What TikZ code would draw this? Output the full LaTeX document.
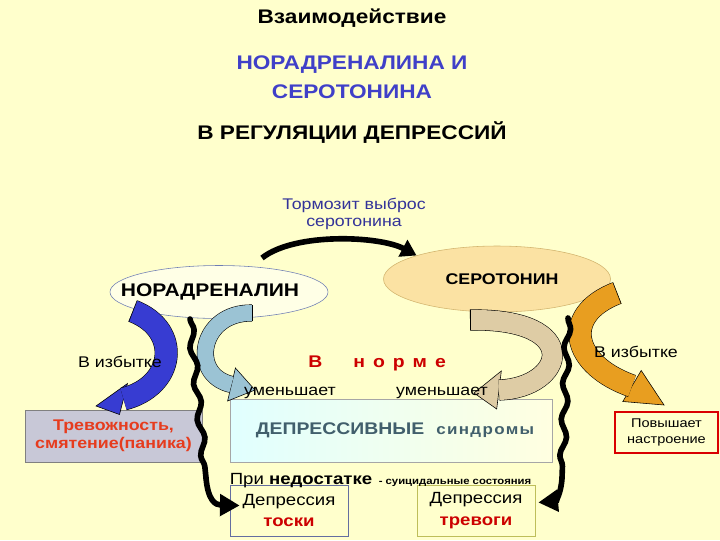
\documentclass[tikz,border=0pt]{standalone}
\usepackage{fontspec}
\setmainfont{Liberation Sans}[FakeStretch=1.15]
\usetikzlibrary{shapes.geometric,arrows.meta,decorations.pathmorphing}
\newlength\unitpx
\setlength\unitpx{0.025cm}
\definecolor{bgyel}{RGB}{255,255,204}
\definecolor{navy}{RGB}{51,51,153}
\definecolor{titleblue}{RGB}{64,64,200}
\definecolor{normred}{RGB}{204,0,0}
\definecolor{trevred}{RGB}{230,60,30}
\definecolor{slate}{RGB}{65,95,108}
\definecolor{serfill}{RGB}{251,226,163}
\definecolor{serline}{RGB}{210,180,110}
\definecolor{norline}{RGB}{110,125,180}
\definecolor{arrblue}{RGB}{55,60,210}
\definecolor{arrsky}{RGB}{155,195,212}
\definecolor{arrtan}{RGB}{222,204,165}
\definecolor{arrorange}{RGB}{232,158,32}
\definecolor{trevfill}{RGB}{200,200,215}
\definecolor{toskaline}{RGB}{100,110,160}
\definecolor{trevogiline}{RGB}{190,190,90}
\tikzset{every node/.style={inner sep=0pt,align=center},
	heading/.style={font=\bfseries\fontsize{14}{21}\selectfont},
	plaintext/.style={font=\fontsize{11}{12.5}\selectfont},
	oval/.style={ellipse,draw,line width=0.4pt,font=\bfseries\fontsize{12}{14}\selectfont},
	tbox/.style={draw,line width=0.5pt,font=\fontsize{11.5}{15.6}\selectfont},
	bandbody/.style={draw=black,line width=0.4pt,double distance=#1},
	arrhead/.style={draw=black,line width=0.4pt},
	wavy/.style={line width=4pt,line cap=round,decorate,
		decoration={snake,segment length=36\unitpx,amplitude=3\unitpx}},
	wavyend/.style={line width=4pt,line cap=round,-{Triangle[length=14pt,width=15pt]}}}

\begin{document}
\begin{tikzpicture}[x=0.025cm,y=-0.025cm]
	\fill[bgyel] (0,0) rectangle (720,540);
	\useasboundingbox (0,0) rectangle (720,540);
	\node[heading] (t1) at (352,18) {Взаимодействие};
	\node[heading,text=titleblue] (t2) at (352,77) {НОРАДРЕНАЛИНА И\\СЕРОТОНИНА};
	\node[heading] (t3) at (352,133) {В РЕГУЛЯЦИИ ДЕПРЕССИЙ};
	\node[plaintext,text=navy] (brake) at (354,214) {Тормозит выброс\\серотонина};
	\node[oval,draw=norline,fill=bgyel!50!white,minimum width=218\unitpx,minimum height=53\unitpx,font=\bfseries\fontsize{13}{14}\selectfont] (nor) at (219,292) {\makebox[60\unitpx]{\raisebox{-4\unitpx}{НОРАДРЕНАЛИН}\hspace{18\unitpx}}};
	\node[oval,draw=serline,fill=serfill,minimum width=227\unitpx,minimum height=66\unitpx,font=\bfseries\fontsize{11}{14}\selectfont] (ser) at (497,279) {\makebox[60\unitpx]{\hspace{10\unitpx}СЕРОТОНИН}};
	\node[tbox,draw=gray,fill=trevfill,minimum width=177\unitpx,minimum height=52\unitpx,text=trevred,font=\bfseries\fontsize{11}{12.8}\selectfont] (trev) at (113.5,436) {Тревожность,\\смятение(паника)};
	\node[tbox,draw=gray!70,left color=cyan!12!white,right color=yellow!12!white,minimum width=322\unitpx,minimum height=63\unitpx,text=slate,font=\bfseries\fontsize{12}{14}\selectfont] (synd) at (391,430.5) {\hspace*{8\unitpx}ДЕПРЕССИВНЫЕ\hspace{12\unitpx}{\addfontfeature{LetterSpace=9}\fontsize{10.5}{14}\selectfont синдромы}};
	\node[tbox,draw=toskaline,minimum width=118\unitpx,minimum height=51\unitpx] (toska) at (289,510.5) {Депрессия\\\textcolor{normred}{\bfseries тоски}};
	\node[tbox,draw=trevogiline,minimum width=118\unitpx,minimum height=51\unitpx] (trevogi) at (476,510.5) {Депрессия\\\textcolor{normred}{\bfseries тревоги}};
	\node[tbox,draw=red!85!black,line width=1.3pt,minimum width=103\unitpx,minimum height=41\unitpx,font=\fontsize{9}{11.5}\selectfont] (mood) at (666.5,432.5) {Повышает\\настроение};
	\coordinate (brakefrom) at (262,258);
	\draw[line width=4pt,-{Triangle[length=11pt,width=13pt]}] (brakefrom) .. controls (295,232) and (380,236) .. (ser.north west);
	\filldraw[arrhead,fill=arrblue] (127.5,383.5) -- (96,406) -- (119.5,414.5) -- cycle;
	\draw[bandbody=22\unitpx,double=arrblue] (133,311) .. controls (182,330) and (175,386) .. (123.5,399);
	\draw[arrhead] (137.1,300.4) -- (128.9,321.6);
	\filldraw[arrhead,fill=arrsky] (235.4,368) -- (255,390) -- (227.6,401) -- cycle;
	\draw[bandbody=16\unitpx,double=arrsky] (252,313) .. controls (200,312) and (189,375) .. (231.5,384.5);
	\draw[arrhead] (252,304.8) -- (252,321.2);
	\filldraw[arrhead,fill=arrtan] (501.3,371) -- (474,393) -- (496.7,409) -- cycle;
	\draw[bandbody=20\unitpx,double=arrtan] (470,320) .. controls (585,318) and (565,388) .. (499,390);
	\draw[arrhead] (470,309.8) -- (470,330.2);
	\filldraw[arrhead,fill=arrorange] (641.2,370.5) -- (664,405) -- (622.8,401.5) -- cycle;
	\draw[bandbody=22\unitpx,double=arrorange] (617,293) .. controls (560,315) and (572,365) .. (632,386);
	\draw[arrhead] (621.1,303.6) -- (612.9,282.4);
	\coordinate (lwtop) at (190,319);
	\coordinate (lwbend) at (206,478);
	\coordinate (rwtop) at (568,318);
	\coordinate (rwbend) at (562,478);
	\draw[wavy] (lwtop) -- (lwbend);
	\draw[wavyend] (lwbend) .. controls (208,500) and (215,505) .. ([shift={(10,-5)}]toska.west);
	\draw[wavy] (rwtop) -- (rwbend);
	\draw[wavyend] (rwbend) .. controls (561,495) and (555,501) .. ([shift={(3,-8)}]trevogi.east);
	\node[plaintext] (exl) at (120,362) {В избытке};
	\node[plaintext] (exr) at (636,352) {В избытке};
	\node[font=\bfseries\fontsize{12}{14}\selectfont,text=normred,anchor=west] (norm) at (308,363) {В\hspace{31\unitpx}н\hspace{8\unitpx}о\hspace{8\unitpx}р\hspace{8\unitpx}м\hspace{8\unitpx}е};
	\node[plaintext] (lessl) at (290,393) {уменьшает};
	\node[plaintext] (lessr) at (442,393) {уменьшает};
	\node[font=\fontsize{11.5}{13}\selectfont] (lack) at (301,481) {При \textbf{недостатке}};
	\node[font=\bfseries\fontsize{7}{8}\selectfont] (suic) at (455,483) {- суицидальные состояния};
\end{tikzpicture}
\end{document}
